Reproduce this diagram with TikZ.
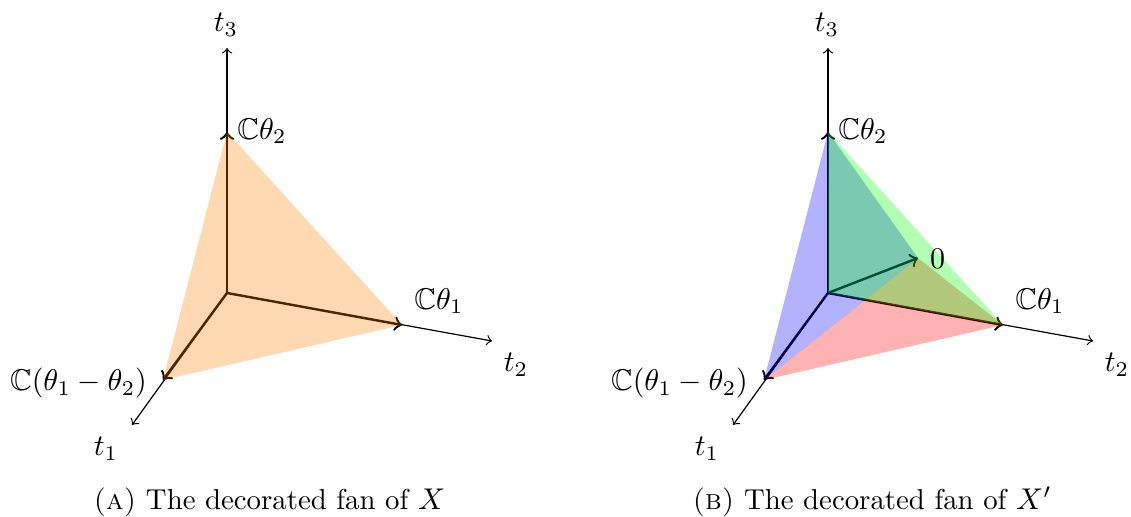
\documentclass[tikz,border=0pt]{standalone}
\usepackage{amssymb}
\begin{document}
\begin{tikzpicture}[x=0.3333pt,y=-0.3333pt,
  axis/.style={->},
  edge/.style={->,thick},
  lab/.style={inner sep=0pt},
  captext/.style={inner sep=0pt,anchor=base west,font=\fontsize{9.6}{12}\selectfont}]
\useasboundingbox (0,0) rectangle (1131,517);
% ---------- left
\coordinate (O) at (227,293);
\coordinate (X3) at (227,48);
\coordinate (X2) at (492,341);
\coordinate (X1) at (132,425);
\coordinate (V2) at (227,132);
\coordinate (V1) at (402,325);
\coordinate (V12) at (163,380);
\draw[axis] (O) -- (X3);
\draw[axis] (O) -- (X2);
\draw[axis] (O) -- (X1);
\draw[edge] (O) -- (V2);
\draw[edge] (O) -- (V1);
\draw[edge] (O) -- (V12);
\fill[orange,opacity=0.3] (V2) -- (V1) -- (V12) -- cycle;
\node[lab] (lt3) at (226,25) {$t_3$};
\node[lab] (lt2) at (516,365) {$t_2$};
\node[lab] (lt1) at (106,449) {$t_1$};
\node[lab] (lv2) at (262,131) {$\mathbb{C}\theta_2$};
\node[lab] (lv1) at (439,301) {$\mathbb{C}\theta_1$};
\node[lab] (lv12) at (78.5,383) {$\mathbb{C}(\theta_1-\theta_2)$};
\node[captext] (capa) at (93,509) {\textsc{(a)} The decorated fan of $X$};
% ---------- right
\coordinate (Ob) at (828,293);
\coordinate (X3b) at (828,48);
\coordinate (X2b) at (1093,341);
\coordinate (X1b) at (733,425);
\coordinate (V2b) at (828,132);
\coordinate (V1b) at (1003,325);
\coordinate (V12b) at (764,380);
\coordinate (P0) at (918,258);
\draw[axis] (Ob) -- (X3b);
\draw[axis] (Ob) -- (X2b);
\draw[axis] (Ob) -- (X1b);
\draw[edge] (Ob) -- (V2b);
\draw[edge] (Ob) -- (V1b);
\draw[edge] (Ob) -- (V12b);
\draw[edge] (Ob) -- (P0);
\fill[red,opacity=0.3] (V12b) -- (P0) -- (V1b) -- cycle;
\fill[blue,opacity=0.3] (V2b) -- (V12b) -- (P0) -- cycle;
\fill[green,opacity=0.3] (V2b) -- (Ob) -- (V1b) -- cycle;
\node[lab] (lt3b) at (827,25) {$t_3$};
\node[lab] (lt2b) at (1117,365) {$t_2$};
\node[lab] (lt1b) at (707,449) {$t_1$};
\node[lab] (lv2b) at (863,131) {$\mathbb{C}\theta_2$};
\node[lab] (lv1b) at (1040,301) {$\mathbb{C}\theta_1$};
\node[lab] (lv12b) at (679.5,383) {$\mathbb{C}(\theta_1-\theta_2)$};
\node[lab] (l0) at (937.5,259) {$0$};
\node[captext] (capb) at (692,509) {\textsc{(b)} The decorated fan of $X'$};
\end{tikzpicture}
\end{document}
